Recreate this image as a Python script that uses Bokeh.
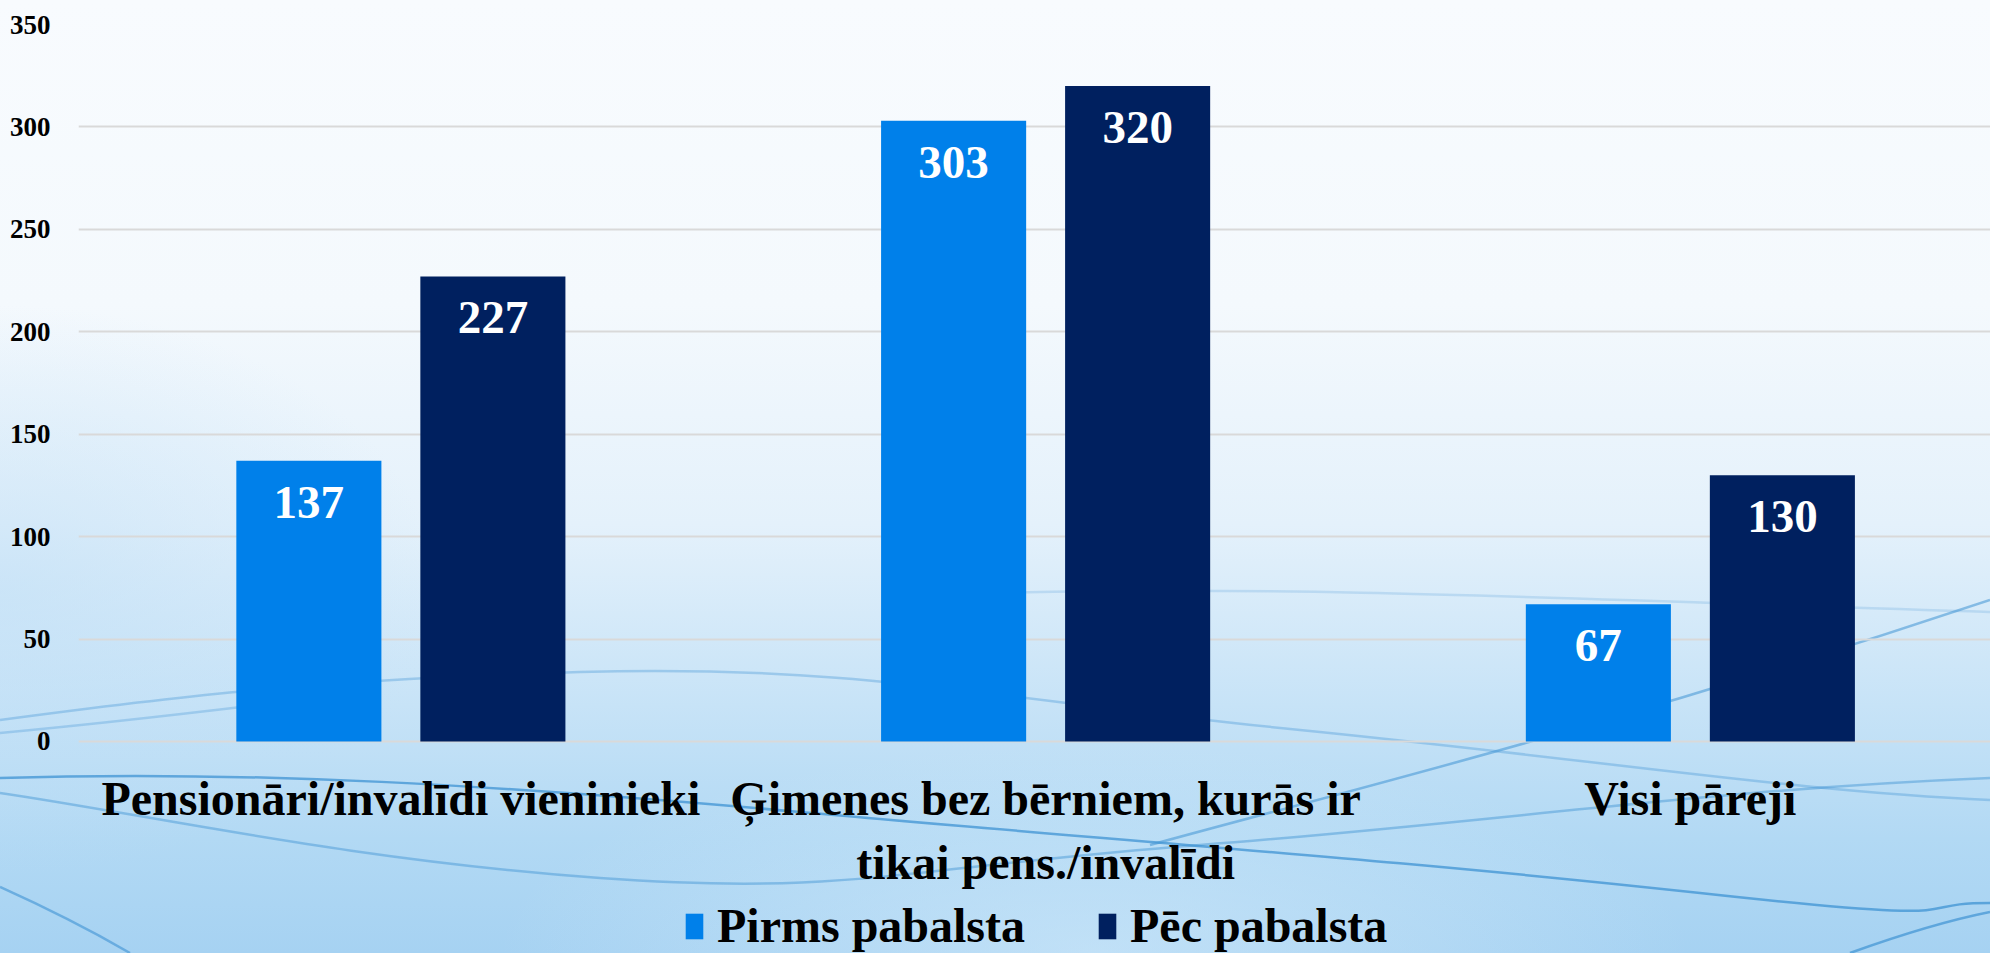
from urllib.parse import quote
from bokeh.plotting import figure
from bokeh.models import ColumnDataSource, Range1d, FixedTicker, LabelSet, Legend, LegendItem
from bokeh.transform import dodge
from bokeh.core.properties import value
from bokeh.embed import file_html
from bokeh.resources import INLINE

# ---- data ----
categories = [
    "Pensionāri/invalīdi vieninieki",
    "Ģimenes bez bērniem, kurās ir\ntikai pens./invalīdi",
    "Visi pāreji",
]
pirms_pabalsta = [137, 303, 67]
pec_pabalsta = [227, 320, 130]
series_names = ["Pirms pabalsta", "Pēc pabalsta"]
y_ticks = [0, 50, 100, 150, 200, 250, 300, 350]

# ---- styling ----
FONT = "Liberation Serif"
C_LIGHT = "#0080EA"
C_DARK = "#00205F"

# decorative background (slide backdrop): soft gradient + thin wave lines
waves = [
    ("M0,778 C250,770 500,785 800,812 S1400,860 1700,893 S1900,903 1990,903", 0.75),
    ("M0,793 C150,815 350,860 600,878 S900,868 1200,845 S1700,790 1990,778", 0.45),
    ("M0,720 C150,700 300,680 580,672 S1000,700 1300,730 S1800,792 1990,800", 0.35),
    ("M0,733 C120,722 200,712 300,700", 0.3),
    ("M1150,845 C1350,790 1600,730 1990,600", 0.55),
    ("M1850,953 C1900,935 1950,920 1990,912", 0.7),
    ("M0,887 C40,905 90,930 130,953", 0.6),
    ("M990,593 C1300,585 1600,600 1990,612", 0.2),
]
svg = ('<svg xmlns="http://www.w3.org/2000/svg" viewBox="0 0 1990 953" '
       'preserveAspectRatio="none">' +
       "".join(f'<path d="{d}" fill="none" stroke="#3f93d3" stroke-opacity="{o}" '
               f'stroke-width="2.5"/>' for d, o in waves) + "</svg>")
bg_css = (
    f'url("data:image/svg+xml;utf8,{quote(svg)}") 0 0 / 100% 100% no-repeat, '
    "radial-gradient(ellipse 30% 22% at 55% 100%, rgba(214,236,251,0.55), rgba(214,236,251,0)), "
    "radial-gradient(ellipse 22% 30% at 0% 62%, rgba(190,222,246,0.55), rgba(190,222,246,0)), "
    "linear-gradient(to bottom, #f8fbfe 0%, #f4f9fd 32%, #e4f1fb 55%, #c7e3f7 74%, #b2d9f4 88%, #a6d2f2 100%)"
)

x_pos = [i + 0.5 for i in range(len(categories))]
src = ColumnDataSource(dict(
    x=x_pos,
    pirms=pirms_pabalsta,
    pec=pec_pabalsta,
    pirms_lbl=[str(v) for v in pirms_pabalsta],
    pec_lbl=[str(v) for v in pec_pabalsta],
))

p = figure(
    width=1990, height=953,
    x_range=Range1d(0, 2.9655), y_range=Range1d(-103.5, 350),
    output_backend="svg", toolbar_location=None,
    min_border_left=78, min_border_right=0, min_border_top=24, min_border_bottom=0,
)
p.styles = {"background": bg_css}
p.background_fill_alpha = 0
p.border_fill_alpha = 0
p.outline_line_color = None

# bars
r1 = p.vbar(x=dodge("x", -0.1427, range=p.x_range), top="pirms", width=0.225,
            source=src, fill_color=C_LIGHT, line_color=None)
r2 = p.vbar(x=dodge("x", 0.1427, range=p.x_range), top="pec", width=0.225,
            source=src, fill_color=C_DARK, line_color=None)

# value labels
for col, lbl, off in (("pirms", "pirms_lbl", -0.1427), ("pec", "pec_lbl", 0.1427)):
    ls = LabelSet(x=dodge("x", off, range=p.x_range), y=col, text=lbl, source=src,
                  text_align="center", text_baseline="alphabetic", y_offset=-57,
                  text_color="white", text_font=value(FONT), text_font_size="47px",
                  text_font_style="bold")
    p.add_layout(ls)

# axes
p.yaxis.ticker = FixedTicker(ticks=y_ticks)
p.yaxis.axis_line_color = None
p.yaxis.major_tick_line_color = None
p.yaxis.minor_tick_line_color = None
p.yaxis.major_label_standoff = 22
p.yaxis.major_label_text_font = FONT
p.yaxis.major_label_text_font_size = "27px"
p.yaxis.major_label_text_font_style = "bold"
p.yaxis.major_label_text_color = "black"

p.xaxis.fixed_location = 0
p.xaxis.ticker = FixedTicker(ticks=x_pos)
p.xaxis.major_label_overrides = {x: c for x, c in zip(x_pos, categories)}
p.xaxis.axis_line_color = None
p.xaxis.major_tick_line_color = None
p.xaxis.minor_tick_line_color = None
p.xaxis.major_label_standoff = 25
p.xaxis.major_label_text_font = FONT
p.xaxis.major_label_text_font_size = "48px"
p.xaxis.major_label_text_font_style = "bold"
p.xaxis.major_label_text_color = "black"

p.xgrid.grid_line_color = None
p.ygrid.ticker = FixedTicker(ticks=y_ticks)
p.ygrid.grid_line_color = "#d9d9d9"
p.ygrid.grid_line_width = 2

legend = Legend(
    items=[LegendItem(label=series_names[0], renderers=[r1]),
           LegendItem(label=series_names[1], renderers=[r2])],
    orientation="horizontal", location=(605, 0),
    spacing=71, label_standoff=12, glyph_width=22, glyph_height=32,
    padding=0, margin=0, background_fill_alpha=0, border_line_color=None,
    label_text_font=FONT, label_text_font_size="48px", label_text_font_style="bold",
    label_text_color="black",
)
p.add_layout(legend)

open("out.html", "w").write(file_html(p, INLINE))
